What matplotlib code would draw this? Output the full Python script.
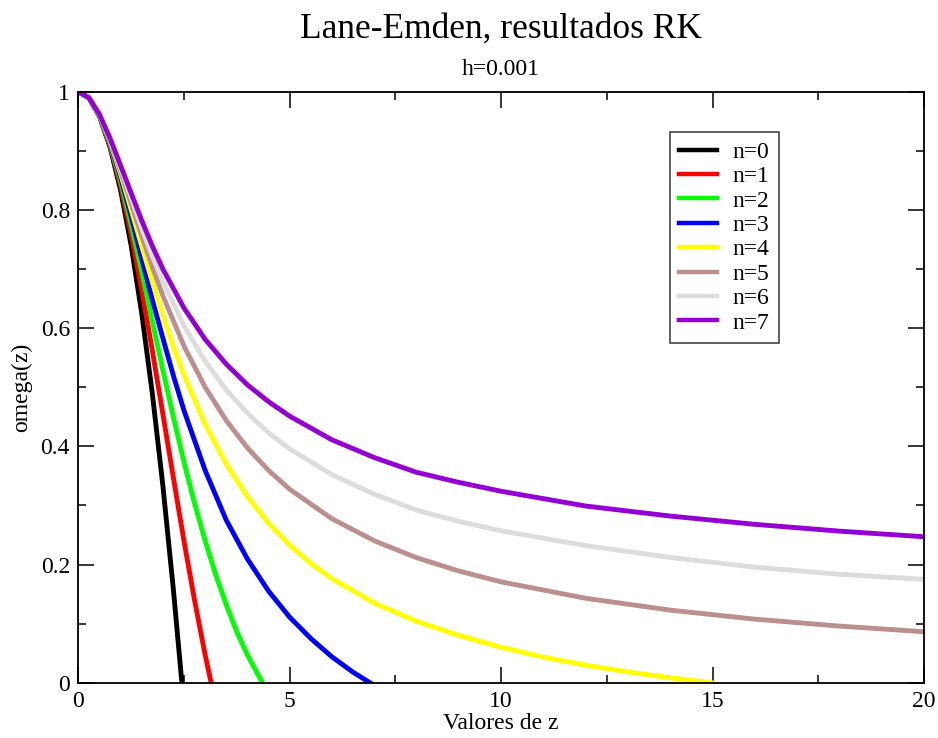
import matplotlib
matplotlib.use("Agg")
import matplotlib.pyplot as plt
from matplotlib.ticker import MultipleLocator, FixedLocator, FixedFormatter

plt.rcParams['font.family'] = ['Liberation Serif', 'DejaVu Serif']

# Lane-Emden solutions omega(z) for polytropic index n = 0..7
z_n0 = [0, 0.25, 0.5, 0.75, 1, 1.25, 1.5, 1.75, 2, 2.25, 2.449]
w_n0 = [1, 0.9896, 0.9583, 0.9063, 0.8333, 0.7396, 0.625, 0.4896, 0.3333, 0.1563, 0]

z_n1 = [0, 0.25, 0.5, 0.75, 1, 1.25, 1.5, 1.75, 2, 2.25, 2.5, 2.75, 3, 3.1416]
w_n1 = [1, 0.9896, 0.9589, 0.9089, 0.8415, 0.7592, 0.665, 0.5623, 0.4546, 0.346, 0.2394, 0.1393, 0.047, 0]

z_n2 = [0, 0.25, 0.5, 0.75, 1, 1.25, 1.5, 1.75, 2, 2.25, 2.5, 2.75, 3, 3.25, 3.5, 3.75, 4, 4.353]
w_n2 = [1, 0.9896, 0.9594, 0.9113, 0.8487, 0.7754, 0.695, 0.612, 0.529, 0.449, 0.373, 0.3034,
        0.240, 0.1824, 0.132, 0.0858, 0.047, 0]

z_n3 = [0, 0.25, 0.5, 0.75, 1, 1.25, 1.5, 1.75, 2, 2.25, 2.5, 3, 3.5, 4, 4.5, 5, 5.5, 6, 6.5, 6.897]
w_n3 = [1, 0.9897, 0.9598, 0.9135, 0.8551, 0.7887, 0.7175, 0.6479, 0.5829, 0.5192, 0.4605, 0.3592,
        0.275, 0.2093, 0.155, 0.1108, 0.0748, 0.0437, 0.0177, 0]

z_n4 = [0, 0.25, 0.5, 0.75, 1, 1.25, 1.5, 1.75, 2, 2.25, 2.5, 3, 3.5, 4, 4.5, 5, 5.5, 6, 7, 8, 9,
        10, 11, 12, 13, 14, 14.97]
w_n4 = [1, 0.9897, 0.9603, 0.9157, 0.8608, 0.8005, 0.7387, 0.6784, 0.6214, 0.5686, 0.5205, 0.4375,
        0.370, 0.315, 0.270, 0.233, 0.202, 0.176, 0.135, 0.104, 0.080, 0.060, 0.0433, 0.0297,
        0.0182, 0.0083, 0]

z_tail = [0, 0.25, 0.5, 0.75, 1, 1.25, 1.5, 1.75, 2, 2.5, 3, 3.5, 4, 4.5, 5, 6, 7, 8, 9, 10,
          12, 14, 16, 18, 20]
w_n5 = [1, 0.9897, 0.9608, 0.9177, 0.8660, 0.8109, 0.7559, 0.7035, 0.6547, 0.5695, 0.5, 0.4435,
        0.3974, 0.3592, 0.3273, 0.2774, 0.2402, 0.2116, 0.1890, 0.1707, 0.1429, 0.1228, 0.1076,
        0.0958, 0.0863]
w_n6 = [1, 0.9898, 0.9612, 0.9196, 0.8708, 0.8205, 0.769, 0.722, 0.679, 0.604, 0.544, 0.4955,
        0.456, 0.423, 0.3956, 0.352, 0.319, 0.292, 0.273, 0.257, 0.232, 0.212, 0.1955, 0.1835, 0.175]
w_n7 = [1, 0.9898, 0.9616, 0.9213, 0.8751, 0.8285, 0.782, 0.739, 0.700, 0.634, 0.581, 0.539,
        0.504, 0.4755, 0.451, 0.411, 0.381, 0.356, 0.339, 0.324, 0.299, 0.282, 0.268, 0.2565, 0.247]

series = [
    ("n=0", z_n0, w_n0, "#000000"),
    ("n=1", z_n1, w_n1, "#ff0000"),
    ("n=2", z_n2, w_n2, "#00ff00"),
    ("n=3", z_n3, w_n3, "#0000ff"),
    ("n=4", z_n4, w_n4, "#ffff00"),
    ("n=5", z_tail, w_n5, "#bc8f8f"),
    ("n=6", z_tail, w_n6, "#dcdcdc"),
    ("n=7", z_tail, w_n7, "#9400d3"),
]

fig = plt.figure(figsize=(9.38, 7.38), dpi=100)
ax = fig.add_axes([0.0835, 0.0749, 0.9015, 0.8008])

for label, z, w, color in series:
    ax.plot(z, w, color=color, lw=3.5, label=label, solid_joinstyle='round')

ax.set_xlim(0, 20)
ax.set_ylim(0, 1)
ax.xaxis.set_major_locator(MultipleLocator(5))
ax.xaxis.set_minor_locator(MultipleLocator(2.5))
ax.yaxis.set_major_locator(FixedLocator([0, 0.2, 0.4, 0.6, 0.8, 1.0]))
ax.yaxis.set_major_formatter(FixedFormatter(["0", "0.2", "0.4", "0.6", "0.8", "1"]))
ax.yaxis.set_minor_locator(MultipleLocator(0.1))
ax.tick_params(which='both', direction='in', top=True, right=True, width=1.1,
               labelsize=17, pad=6)
ax.tick_params(which='major', length=11.5)
ax.tick_params(which='minor', length=6)
for sp in ax.spines.values():
    sp.set_linewidth(1.3)

ax.set_xlabel("Valores de z", fontsize=17, labelpad=1)
ax.set_ylabel("omega(z)", fontsize=17, labelpad=6)

fig.text(0.534, 0.960, "Lane-Emden, resultados RK", ha='center', va='center', fontsize=25.5)
fig.text(0.534, 0.906, "h=0.001", ha='center', va='center', fontsize=17)

leg = ax.legend(loc='upper left', bbox_to_anchor=(0.6997, 0.9318), fontsize=17, frameon=True,
                fancybox=False, edgecolor='black', handlelength=1.6, handletextpad=0.65,
                labelspacing=0.12, borderpad=0.4, borderaxespad=0)
leg.get_frame().set_linewidth(1.1)
for line in leg.get_lines():
    line.set_linewidth(3.2)

fig.savefig("out.png", dpi=100)
